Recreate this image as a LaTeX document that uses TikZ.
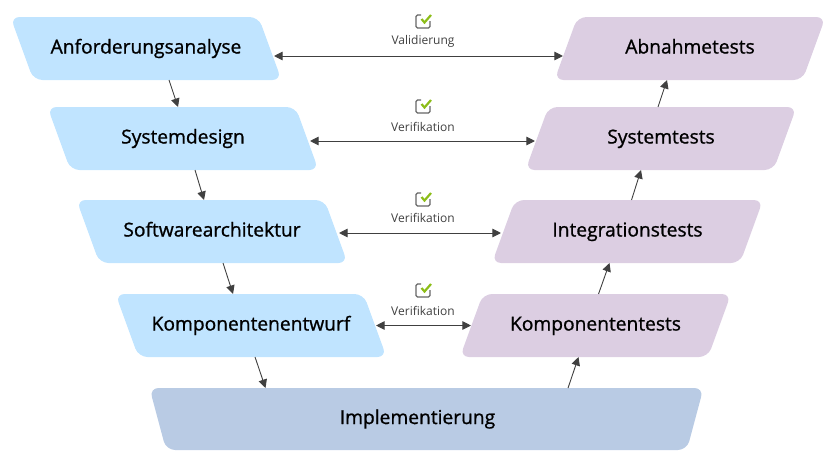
\documentclass[tikz,border=0pt]{standalone}
\usepackage{fontspec}
\setmainfont{Open Sans}
\newfontfamily\boxfont[FakeBold=1]{Open Sans}
\usetikzlibrary{arrows.meta,shapes.geometric,positioning,calc}

\definecolor{reqblue}{RGB}{192,228,255}
\definecolor{testpurple}{RGB}{220,206,226}
\definecolor{implblue}{RGB}{185,203,228}
\definecolor{connGray}{RGB}{64,64,64}
\definecolor{checkGreen}{RGB}{140,189,24}

\tikzset{
  phase/.style={shape=trapezium, trapezium stretches body=true, rounded corners=9pt,
                minimum width=271pt, text height=15pt, text depth=5pt,
                inner xsep=0pt, inner ysep=21.5pt, outer sep=0pt,
                text=black, font=\boxfont\fontsize{19.2}{21}\selectfont},
  down/.style={phase, fill=reqblue, trapezium left angle=110, trapezium right angle=70},
  up/.style={phase, fill=testpurple, trapezium left angle=70, trapezium right angle=110},
  conn/.style={draw=connGray, line width=0.9pt, -{Triangle[length=8.5pt,width=8.5pt]}},
  both/.style={conn, {Triangle[length=8.5pt,width=8.5pt]}-{Triangle[length=8.5pt,width=8.5pt]}},
  checktext/.style={text=black!75, font=\fontsize{12}{14}\selectfont},
  checkbox/.pic={
    \draw[gray!80!black, line width=1.2pt, rounded corners=1.5pt] (-2,-7) -- (-7,-7) -- (-7,6) -- (7,6) -- (7,-1);
    \draw[checkGreen, line width=2.2pt] (-1.5,-3) -- (1.5,0.5) -- (8,-7);
  }
}

\begin{document}
\begin{tikzpicture}[x=1pt, y=-1pt]
  \useasboundingbox (0,0) rectangle (837,466);

  % Left side
  \node[down] (req) at (146,48.5) {Anforderungsanalyse};
  \node[down] (sys) at (183,138.5) {Systemdesign};
  \node[down] (arch) at (212,231.5) {Softwarearchitektur};
  \node[down] (comp) at (251,325.5) {Komponentenentwurf};

  % Right side
  \node[up] (acc) at (690,48.5) {Abnahmetests};
  \node[up] (systest) at (661,138.5) {Systemtests};
  \node[up] (inttest) at (627.5,231.5) {Integrationstests};
  \node[up] (comptest) at (595.5,325.5) {Komponententests};

  % Bottom
  \node[phase, fill=implblue, minimum width=554pt, inner ysep=21pt,
        trapezium left angle=105, trapezium right angle=105] (impl) at (426.5,419) {Implementierung\hspace*{18pt}};

  % Down and up
  \draw[conn] ([xshift=23]req.south) -- ([xshift=-5]sys.north);
  \draw[conn] ([xshift=12]sys.south) -- ([xshift=-8]arch.north);
  \draw[conn] ([xshift=11]arch.south) -- ([xshift=-18]comp.north);
  \draw[conn] ([xshift=4]comp.south) -- ([xshift=-161]impl.north);
  \draw[conn] ([xshift=141.5]impl.north) -- ([xshift=-17]comptest.south);
  \draw[conn] ([xshift=3]comptest.north) -- ([xshift=-18]inttest.south);
  \draw[conn] ([xshift=4]inttest.north) -- ([xshift=-20]systest.south);
  \draw[conn] ([xshift=-3]systest.north) -- ([xshift=-23]acc.south);

  % Links between the two sides
  \draw[both] ([shift={(4,7.5)}]req.east) -- ([shift={(-3,7.5)}]acc.west);
  \draw[both] ([shift={(3,2.5)}]sys.east) -- ([shift={(-2,2.5)}]systest.west);
  \draw[both] ([shift={(3,1.5)}]arch.east) -- ([shift={(-2.5,1.5)}]inttest.west);
  \draw[both] ([shift={(1,0)}]comp.east) -- ([shift={(-0.5,0)}]comptest.west);

  % Checks
  \node[checktext] (val) at (423,41.5) {Validierung};
  \node[checktext] (ver1) at (423,127) {Verifikation};
  \node[checktext] (ver2) at (423,218) {Verifikation};
  \node[checktext] (ver3) at (423,311) {Verifikation};
  \foreach \y in {22,107,200,291}
    \pic at (423,\y) {checkbox};
\end{tikzpicture}
\end{document}
